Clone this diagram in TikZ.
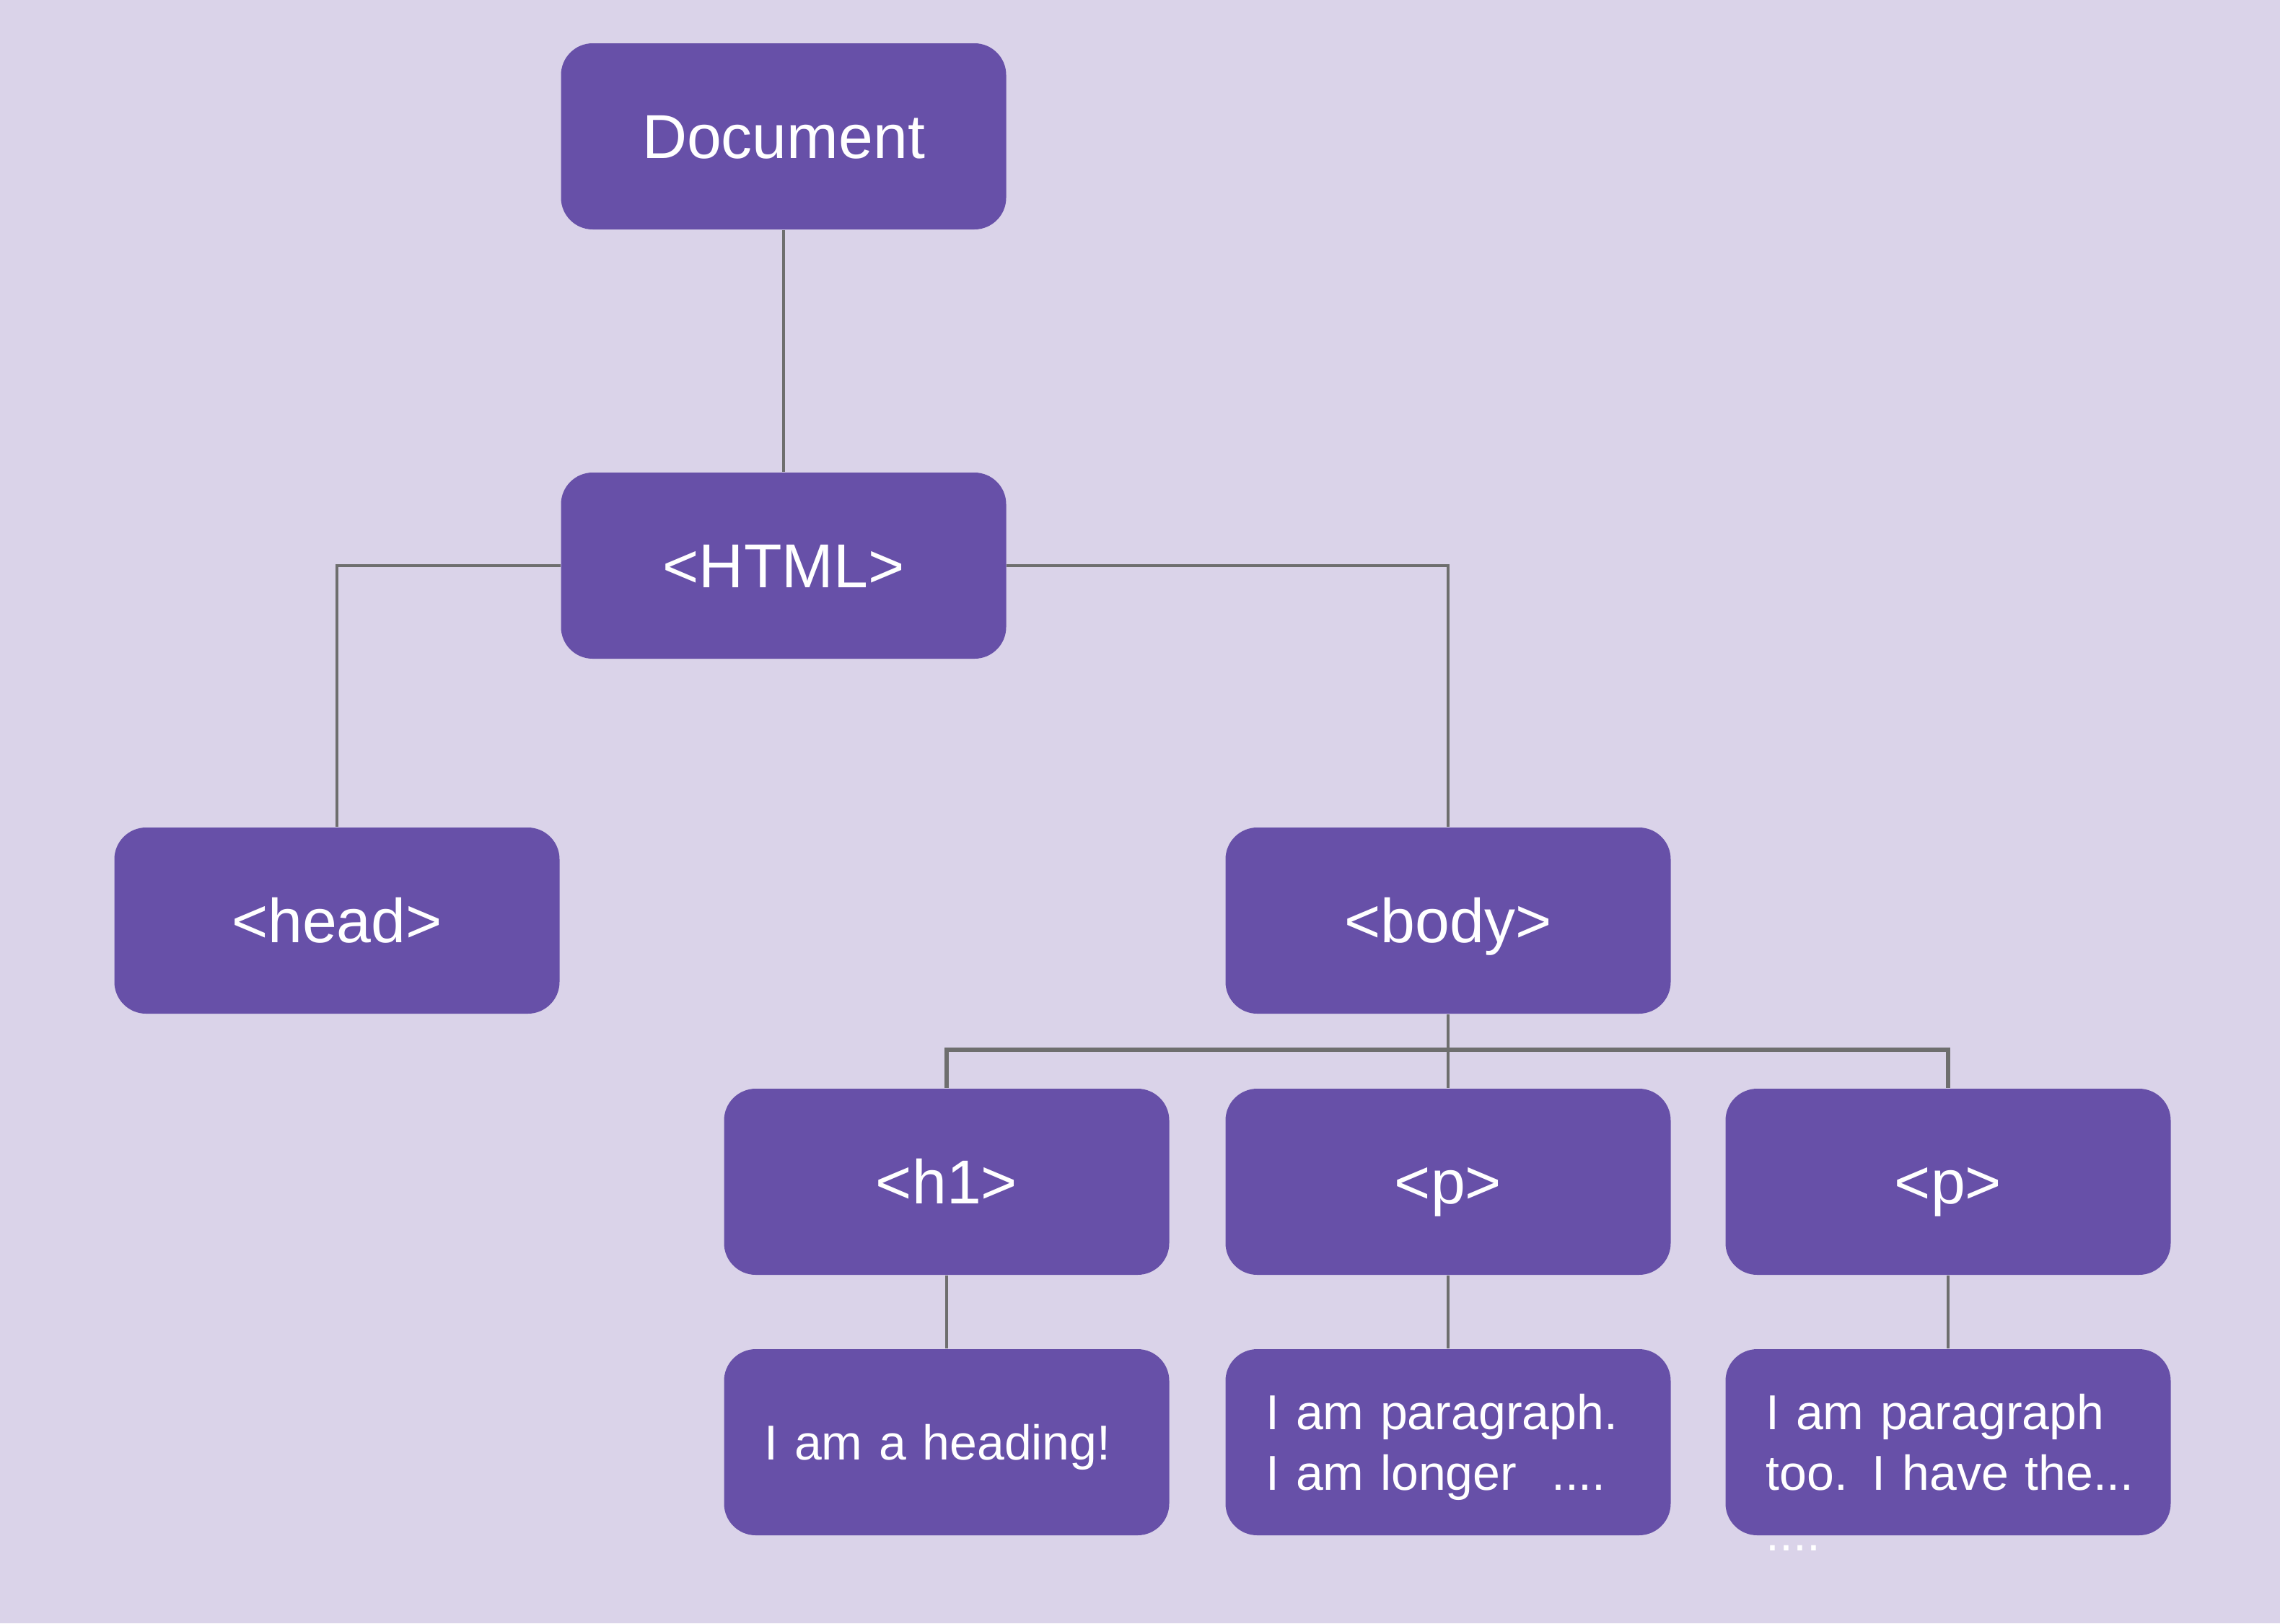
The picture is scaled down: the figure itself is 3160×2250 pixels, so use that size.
\documentclass[tikz,border=0pt]{standalone}
\usepackage{fontspec}
\setmainfont{Liberation Sans}
\definecolor{bgc}{HTML}{DAD3E9}
\definecolor{boxc}{HTML}{6750A8}
\definecolor{linec}{HTML}{6E6E6E}
\begin{document}
\begin{tikzpicture}[x=0.25pt,y=-0.25pt,
  box/.style={fill=boxc, draw=none, rounded corners=11pt, minimum width=154.25pt, minimum height=64.5pt, inner sep=0pt, text=white},
  hdr/.style={box, font=\fontsize{21.5}{26}\selectfont, text height=15.4pt, text depth=0pt},
  leaf/.style={box, font=\fontsize{17}{21}\selectfont, align=left, text width=126.25pt, inner xsep=14pt, inner ysep=0pt, text height=12.2pt, text depth=0pt},
  leafii/.style={leaf, text depth=21pt},
  conn/.style={draw=linec, line width=1.1pt},
  busline/.style={draw=linec, line width=1.6pt}]
\fill[bgc] (0,0) rectangle (3160,2250);
\useasboundingbox (0,0) rectangle (3160,2250);

\node[hdr] (doc) at (1086,189) {Document};
\node[hdr] (html) at (1086,784) {<HTML>};
\node[hdr] (head) at (467,1276) {<head>};
\node[hdr] (body) at (2007,1276) {<body>};
\node[hdr] (h1) at (1312,1638) {<h1>};
\node[hdr] (p1) at (2007,1638) {<p>};
\node[hdr] (p2) at (2700,1638) {<p>};
\node[leaf] (l1) at (1312,1999) {\mbox{I am a heading!}};
\node[leafii] (l2) at (2007,1999) {\mbox{I am paragraph.}\\\mbox{I am longer\hspace{12pt}....}};
\node[leafii] (l3) at (2700,1999) {\mbox{I am paragraph}\\\mbox{\rlap{\raisebox{-21pt}[0pt][0pt]{....}}too. I have the...}};

\coordinate (bus) at (2007,1455);

\draw[conn] (doc.south) -- (html.north);
\draw[conn] (html.west) -| (head.north);
\draw[conn] (html.east) -| (body.north);
\draw[conn] (body.south) -- (p1.north);
\draw[busline] (h1.north) |- (bus) -| (p2.north);
\draw[conn] (h1.south) -- (l1.north);
\draw[conn] (p1.south) -- (l2.north);
\draw[conn] (p2.south) -- (l3.north);
\end{tikzpicture}
\end{document}
